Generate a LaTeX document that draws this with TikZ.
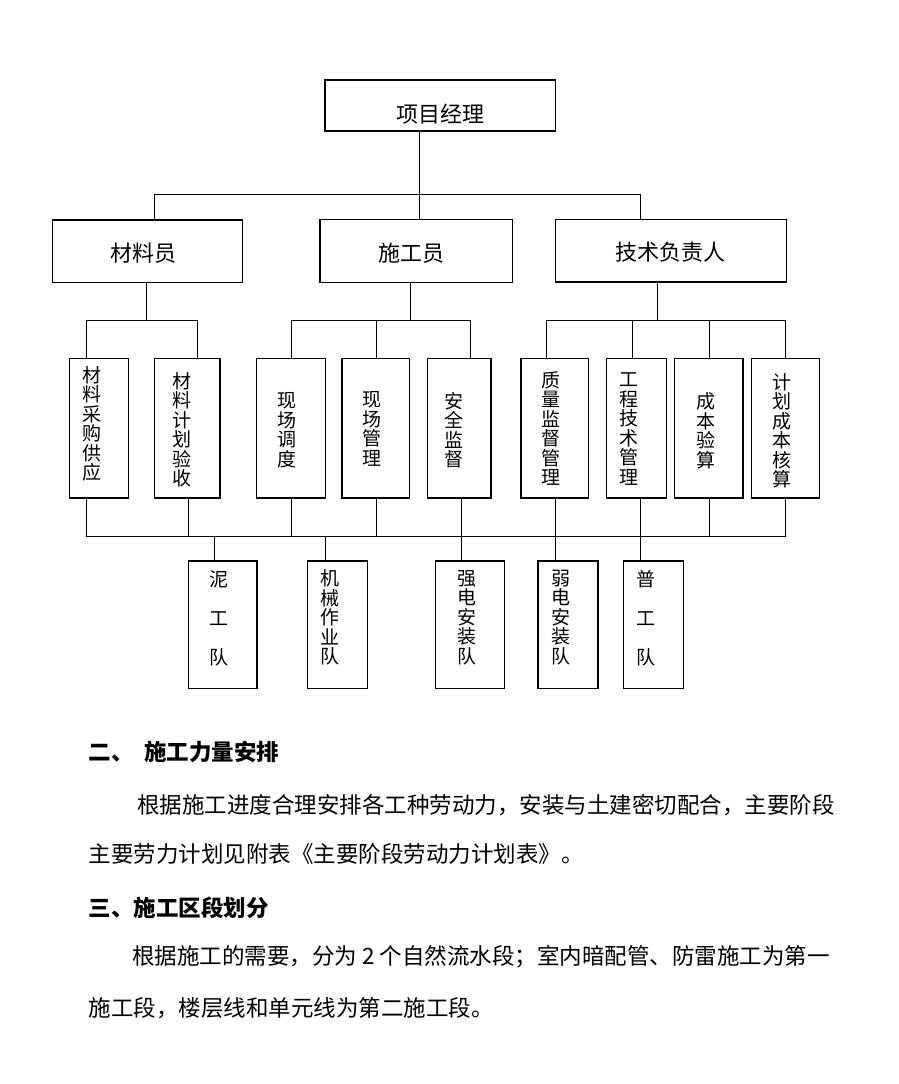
\documentclass[tikz,border=0pt]{standalone}
\usepackage{fontspec}
\setmainfont{Noto Sans CJK SC}
\begin{document}
\begin{tikzpicture}[x=1pt,y=-1pt,line width=1pt,
  box/.style={draw,line width=1.1pt,inner sep=0pt,outer sep=0pt},
  lbl/.style={inner sep=0pt,font=\fontsize{22}{22}\selectfont},
  vlbl/.style={inner sep=0pt,align=center,font=\fontsize{19}{19.5}\selectfont},
  wlbl/.style={inner sep=0pt,align=center,font=\fontsize{19}{39}\selectfont},
  body/.style={inner sep=0pt,anchor=west,font=\fontsize{22.5}{22.5}\selectfont},
  head/.style={body,font=\fontsize{22.5}{22.5}\selectfont\bfseries}]
\fill[white] (0,0) rectangle (898,1084);
\useasboundingbox (0,0) rectangle (898,1084);

% level 1 and 2
\node[box,minimum width=230.7,minimum height=51] (pm) at (440.35,105.5) {};
\node[box,minimum width=190,minimum height=62.3] (clk) at (147.3,251.15) {};
\node[box,minimum width=192.7,minimum height=63.4] (sgy) at (416.35,251) {};
\node[box,minimum width=231.4,minimum height=62.7] (jsr) at (671,250.65) {};

\node[lbl] (tpm) at (440.5,114) {项目经理};
\node[lbl] (tclk) at (143.3,253) {材料员};
\node[lbl] (tsgy) at (411.2,253) {施工员};
\node[lbl] (tjsr) at (670,251.7) {技术负责人};

% level 3
\foreach \n/\cx/\w in {b31/99/59.4,b32/187.35/65.3,b33/291/68.6,b34/375.65/67.3,b35/459.15/63.7,
  b36/554.85/67.7,b37/636.3/60,b38/708.85/68.3,b39/785.5/68.4}
  \node[box,minimum width=\w,minimum height=139.7] (\n) at (\cx,428.15) {};

\node[vlbl] (t31) at (91.7,424) {材\\料\\采\\购\\供\\应};
\node[vlbl] (t32) at (182.3,430) {材\\料\\计\\划\\验\\收};
\node[vlbl] (t33) at (287.3,430) {现\\场\\调\\度};
\node[vlbl] (t34) at (371.7,429) {现\\场\\管\\理};
\node[vlbl] (t35) at (453.7,430) {安\\全\\监\\督};
\node[vlbl] (t36) at (550.7,428.3) {质\\量\\监\\督\\管\\理};
\node[vlbl] (t37) at (628.7,429) {工\\程\\技\\术\\管\\理};
\node[vlbl] (t38) at (705.7,431) {成\\本\\验\\算};
\node[vlbl] (t39) at (781.7,431) {计\\划\\成\\本\\核\\算};

% level 4
\foreach \n/\cx/\w in {b41/222.65/68.7,b42/337.7/60,b43/470/68.6,b44/568/60,b45/653.3/60}
  \node[box,minimum width=\w,minimum height=127.3] (\n) at (\cx,624.65) {};

\node[wlbl] (t41) at (219.3,618) {泥\\工\\队};
\node[vlbl] (t42) at (330.3,617.5) {机\\械\\作\\业\\队};
\node[vlbl] (t43) at (466.7,617.5) {强\\电\\安\\装\\队};
\node[vlbl] (t44) at (560.7,617.5) {弱\\电\\安\\装\\队};
\node[wlbl] (t45) at (645.7,618) {普\\工\\队};

% top bus
\coordinate (tb) at (419,194.3);
\coordinate (tbL) at (154.3,194.3);
\coordinate (tbR) at (640.7,194.3);
\draw (pm.south -| tb) -- (sgy.north -| tb);
\draw (clk.north -| tbL) -- (tbL) -- (tbR) -- (jsr.north -| tbR);

% sub buses
\coordinate (s1) at (146,320.7);
\coordinate (s1L) at (86,320.7);
\coordinate (s1R) at (197,320.7);
\draw (clk.south -| s1) -- (s1);
\draw (b31.north -| s1L) -- (s1L) -- (s1R) -- (b32.north -| s1R);

\coordinate (s2) at (410.3,320.7);
\coordinate (s2L) at (291,320.7);
\coordinate (s2M) at (376.5,320.7);
\coordinate (s2R) at (470.3,320.7);
\draw (sgy.south -| s2) -- (s2);
\draw (b33.north -| s2L) -- (s2L) -- (s2R) -- (b35.north -| s2R);
\draw (s2M) -- (b34.north -| s2M);

\coordinate (s3) at (657.7,320.7);
\coordinate (s3L) at (546.7,320.7);
\coordinate (s3A) at (632.3,320.7);
\coordinate (s3B) at (709,320.7);
\coordinate (s3R) at (785.3,320.7);
\draw (jsr.south -| s3) -- (s3);
\draw (b36.north -| s3L) -- (s3L) -- (s3R) -- (b39.north -| s3R);
\draw (s3A) -- (b37.north -| s3A);
\draw (s3B) -- (b38.north -| s3B);

% bottom bus
\coordinate (bL) at (86,536);
\coordinate (bR) at (785.3,536);
\draw (b31.south -| bL) -- (bL) -- (bR) -- (b39.south -| bR);
\coordinate (u2) at (188.3,536);
\coordinate (u3) at (291,536);
\coordinate (u4) at (376.5,536);
\coordinate (u8) at (709,536);
\draw (b32.south -| u2) -- (u2);
\draw (b33.south -| u3) -- (u3);
\draw (b34.south -| u4) -- (u4);
\draw (b38.south -| u8) -- (u8);
\coordinate (d1) at (214,536);
\coordinate (d2) at (325,536);
\coordinate (d3) at (461.7,536);
\coordinate (d4) at (555.3,536);
\coordinate (d5) at (640.7,536);
\draw (d1) -- (b41.north -| d1);
\draw (d2) -- (b42.north -| d2);
\draw (b35.south -| d3) -- (b43.north -| d3);
\draw (b36.south -| d4) -- (b44.north -| d4);
\draw (b37.south -| d5) -- (b45.north -| d5);

% body text
\node[head] (h1) at (88,752) {二、\hspace{11pt}施工力量安排};
\node[body] (p1a) at (136.7,805) {根据施工进度合理安排各工种劳动力，安装与土建密切配合，主要阶段};
\node[body] (p1b) at (88,854) {主要劳力计划见附表《主要阶段劳动力计划表》。};
\node[head] (h2) at (88,908) {三、施工区段划分};
\node[body] (p2a) at (131.7,957) {根据施工的需要，分为 2 个自然流水段；室内暗配管、防雷施工为第一};
\node[body] (p2b) at (88,1008) {施工段，楼层线和单元线为第二施工段。};
\end{tikzpicture}
\end{document}
